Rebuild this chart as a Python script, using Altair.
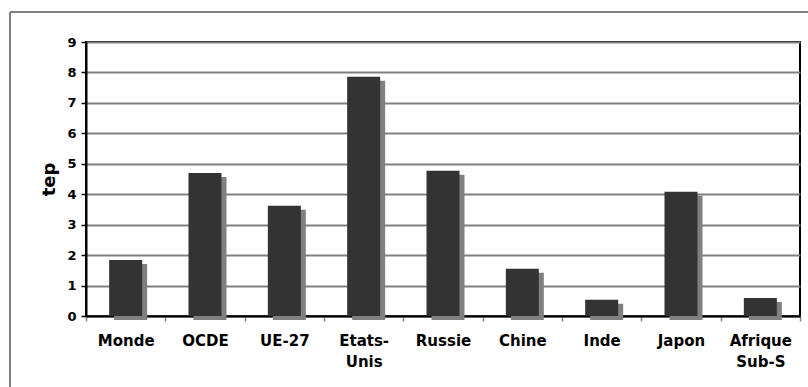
import altair as alt
import pandas as pd

categories = ["Monde", "OCDE", "UE-27", "Etats-\nUnis", "Russie", "Chine", "Inde", "Japon", "Afrique\nSub-S"]
values = [1.84, 4.70, 3.62, 7.86, 4.77, 1.55, 0.53, 4.08, 0.59]
y_ticks = [0, 1, 2, 3, 4, 5, 6, 7, 8, 9]

df = pd.DataFrame({"pays": categories, "tep": values})

W, H = 714, 274
FONT = "DejaVu Sans"

x_enc = alt.X(
    "pays:N",
    sort=categories,
    scale=alt.Scale(paddingInner=0, paddingOuter=0),
    axis=alt.Axis(
        title=None,
        labelExpr="split(datum.label, '\\n')",
        labelAngle=0,
        labelFont=FONT,
        labelFontWeight="bold",
        labelFontSize=15,
        labelLineHeight=21,
        labelColor="black",
        labelPadding=12,
        tickBand="extent",
        tickSize=5,
        tickColor="#808080",
        tickWidth=1.5,
        domainColor="black",
        domainWidth=2,
        grid=False,
    ),
)

y_enc = alt.Y(
    "tep:Q",
    scale=alt.Scale(domain=[0, 9], nice=False),
    axis=alt.Axis(
        title="tep",
        titleFont=FONT,
        titleFontSize=18,
        titleFontWeight="bold",
        titleColor="black",
        titlePadding=8,
        values=y_ticks,
        format="d",
        labelFont=FONT,
        labelFontWeight="bold",
        labelFontSize=13,
        labelColor="black",
        labelPadding=5,
        tickSize=5,
        tickColor="black",
        tickWidth=1.5,
        domainColor="black",
        domainWidth=2,
        gridColor="#808080",
        gridWidth=2,
    ),
)

shadow = alt.Chart(df).mark_bar(size=33, color="#808080", xOffset=5, yOffset=4, y2Offset=0).encode(
    x=x_enc, y=y_enc
)
bars = alt.Chart(df).mark_bar(size=33, color="#333333").encode(x=x_enc, y=y_enc)

border_left = alt.Chart(df).mark_rule(color="#808080", strokeWidth=1).encode(
    x=alt.value(-76), y=alt.value(-30), y2=alt.value(H + 80)
)
border_top = alt.Chart(df).mark_rule(color="#808080", strokeWidth=1).encode(
    x=alt.value(-76), x2=alt.value(W + 20), y=alt.value(-30)
)

chart = (
    alt.layer(shadow, bars, border_left, border_top)
    .properties(
        width=W,
        height=H,
        autosize=alt.AutoSizeParams(type="none"),
        padding={"left": 86, "top": 42, "right": 8, "bottom": 71},
        background="white",
    )
    .configure_view(stroke="black", strokeWidth=2)
)

chart.save("out.html", embed_options={"renderer": "svg", "actions": False})
